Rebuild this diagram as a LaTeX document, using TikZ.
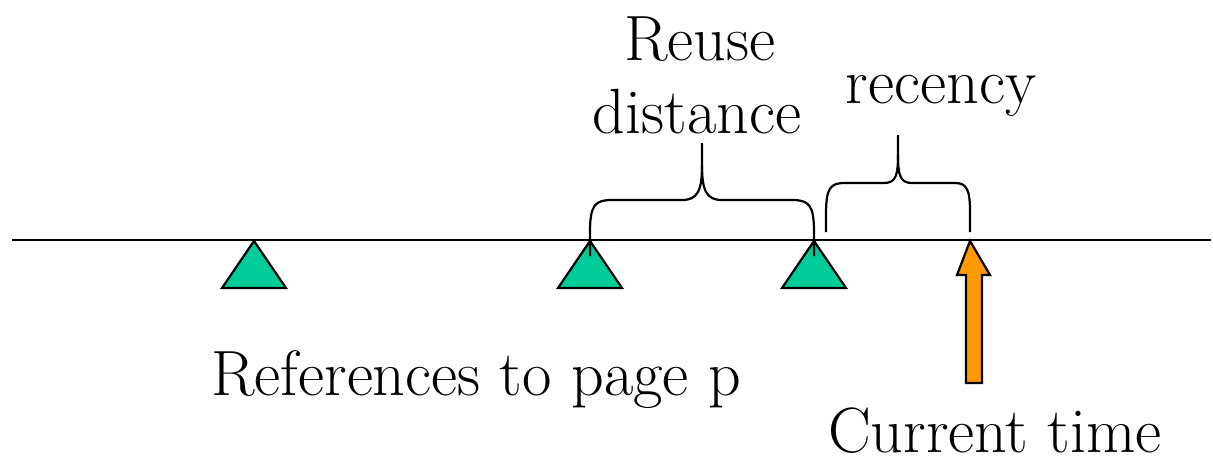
\documentclass[tikz,border=0pt]{standalone}
\definecolor{pagehit}{HTML}{00CC99}
\definecolor{nowmark}{HTML}{FF9900}

\begin{document}
\begin{tikzpicture}[x=1pt,y=-1pt,
    lbl/.style={anchor=base,inner sep=0pt,font=\fontsize{64}{70}\selectfont},
    brc/.style={line width=2.2pt}]
  \useasboundingbox (0,0) rectangle (1213,459);
  % time line
  \coordinate (tl) at (12,240);
  \coordinate (tr) at (1211,240);
  \draw[line width=2pt] (tl) -- (tr);
  % references to page p
  \foreach \x/\nm in {254/ra,590/rb,814/rc} {
    \coordinate (\nm) at (\x,241);
    \filldraw[fill=pagehit,line width=2.2pt] (\nm) -- ++(32,47) -- ++(-64,0) -- cycle;
  }
  % current time arrow
  \coordinate (now) at (970,241);
  \filldraw[fill=nowmark,line width=2.2pt] (now) -- ++(20,34) -- ++(-8,0) -- ++(0,108)
    -- ++(-16,0) -- ++(0,-108) -- ++(-9,0) -- cycle;
  % braces
  \draw[brc] (590,256) -- (590,232) .. controls (590,205) and (595,200) .. (612,200)
    -- (682,200) .. controls (698,200) and (702,190) .. (702,165) -- (702,143);
  \draw[brc] (702,165) .. controls (702,190) and (706,200) .. (722,200)
    -- (792,200) .. controls (809,200) and (814,205) .. (814,232) -- (814,256);
  \draw[brc] (826,232) -- (826,215) .. controls (826,188) and (830,183) .. (845,183)
    -- (884,183) .. controls (896,183) and (898,175) .. (898,155) -- (898,135);
  \draw[brc] (898,155) .. controls (898,175) and (900,183) .. (912,183)
    -- (955,183) .. controls (967,183) and (970,190) .. (970,212) -- (970,232);
  % labels
  \node[lbl] (reuse) at (700,60) {Reuse};
  \node[lbl] (dist) at (697,133) {distance};
  \node[lbl] (rec) at (941,103) {recency};
  \node[lbl] (refs) at (476,395) {References to page p};
  \node[lbl] (cur) at (995,452) {Current time};
\end{tikzpicture}
\end{document}
